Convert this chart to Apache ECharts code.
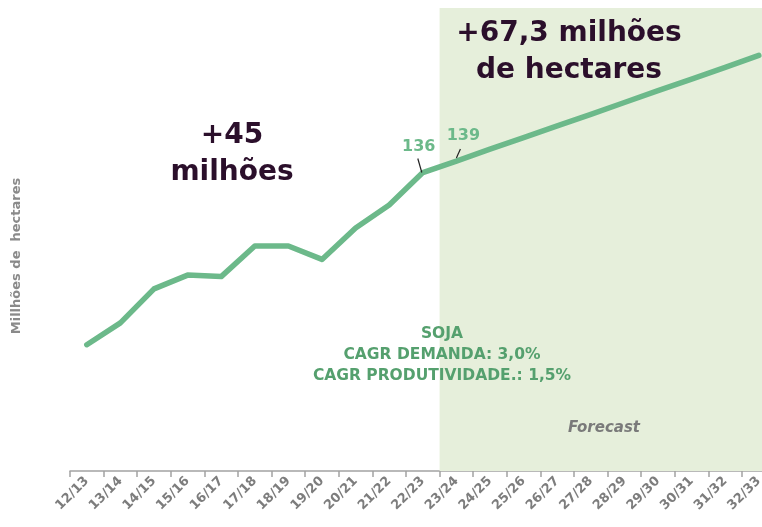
<!DOCTYPE html>
<html>
<head>
<meta charset="utf-8">
<script src="https://cdn.jsdelivr.net/npm/echarts@6/dist/echarts.min.js"></script>
<style>
html,body{margin:0;padding:0;background:#fff;overflow:hidden;}
#chart{width:776px;height:527px;}
</style>
</head>
<body>
<div id="chart"></div>
<script>
const categories = ['12/13','13/14','14/15','15/16','16/17','17/18','18/19','19/20','20/21','21/22','22/23','23/24','24/25','25/26','26/27','27/28','28/29','29/30','30/31','31/32','32/33'];
const areaValues = [91, 96.7, 105.6, 109.2, 108.8, 116.8, 116.8, 113.3, 121.5, 127.5, 136, 139, 142.1, 145.1, 148.2, 151.2, 154.3, 157.4, 160.4, 163.5, 166.6];
const forecastStart = 11;
const labelledPoints = [10, 11];
const yMin = 58, yMax = 179;
const yAxisTitle = 'Millhões de  hectares';
const leftNote = ['+45', 'milhões'];
const rightNote = ['+67,3 milhões', 'de hectares'];
const cagrNote = ['SOJA', 'CAGR DEMANDA: 3,0%', 'CAGR PRODUTIVIDADE.: 1,5%'];
const forecastText = 'Forecast';

const FONT = 'DejaVu Sans';
const chart = echarts.init(document.getElementById('chart'), null, {renderer: 'canvas'});

chart.setOption({
  animation: false,
  grid: {left: 70, top: 8, width: 705.6, height: 463, outerBoundsMode: 'none', containLabel: false},
  xAxis: [{
    type: 'category', data: categories, boundaryGap: true,
    axisLine: {lineStyle: {color: '#a3a3a3', width: 1.5}},
    axisTick: {show: true, length: 6, lineStyle: {color: '#a3a3a3', width: 1.5}},
    axisLabel: {rotate: 45, color: '#7d7d7d', fontFamily: FONT, fontWeight: 'bold', fontSize: 13, margin: 8}
  }, {
    type: 'value', min: 0, max: categories.length, show: false, splitLine: {show: false}
  }],
  yAxis: {type: 'value', min: yMin, max: yMax, show: false, splitLine: {show: false}},
  series: [
    {type: 'line', xAxisIndex: 1, data: [], silent: true, symbol: 'none',
     markArea: {silent: true, itemStyle: {color: '#e6efdb'},
       data: [[{xAxis: forecastStart, yAxis: yMax}, {xAxis: categories.length, yAxis: yMin}]]}, z: 1},
    {type: 'line', data: areaValues, symbol: 'none', z: 5,
     lineStyle: {color: '#6cb98a', width: 5.5, join: 'round', cap: 'round'}}
  ]
});

const pts = labelledPoints.map(i => chart.convertToPixel({xAxisIndex: 0, yAxisIndex: 0}, [i, areaValues[i]]));
const graphics = [];
const offs = [{lx: -4, ly: -26, a: [-5, -14], b: [-1, 0]}, {lx: 7, ly: -25, a: [4, -12], b: [0, -3]}];
labelledPoints.forEach((idx, k) => {
  const p = pts[k], o = offs[k];
  graphics.push({type: 'text', x: p[0] + o.lx, y: p[1] + o.ly, z: 10,
    style: {text: String(areaValues[idx]), fill: '#6cb98a', font: 'bold 16px "' + FONT + '"', textAlign: 'center', textVerticalAlign: 'middle'}});
  graphics.push({type: 'line', z: 10, shape: {x1: p[0] + o.a[0], y1: p[1] + o.a[1], x2: p[0] + o.b[0], y2: p[1] + o.b[1]},
    style: {stroke: '#222', lineWidth: 1.2}});
});
graphics.push({type: 'text', x: 17, y: 256, rotation: Math.PI / 2, z: 10,
  style: {text: yAxisTitle, fill: '#8a8a8a', font: 'bold 13px "' + FONT + '"', textAlign: 'center', textVerticalAlign: 'middle'}});
graphics.push({type: 'text', x: 232, y: 154, z: 10,
  style: {text: leftNote.join('\n'), fill: '#2b0f2b', font: 'bold 28px "' + FONT + '"', lineHeight: 37, textAlign: 'center', textVerticalAlign: 'middle'}});
graphics.push({type: 'text', x: 569, y: 52, z: 10,
  style: {text: rightNote.join('\n'), fill: '#2b0f2b', font: 'bold 28px "' + FONT + '"', lineHeight: 37, textAlign: 'center', textVerticalAlign: 'middle'}});
graphics.push({type: 'text', x: 442, y: 355, z: 10,
  style: {text: cagrNote.join('\n'), fill: '#55a06e', font: 'bold 15.5px "' + FONT + '"', lineHeight: 21, textAlign: 'center', textVerticalAlign: 'middle'}});
graphics.push({type: 'text', x: 604, y: 428, z: 10,
  style: {text: forecastText, fill: '#7a7a7a', font: 'italic bold 15px "' + FONT + '"', textAlign: 'center', textVerticalAlign: 'middle'}});
chart.setOption({graphic: graphics});
</script>
</body>
</html>
